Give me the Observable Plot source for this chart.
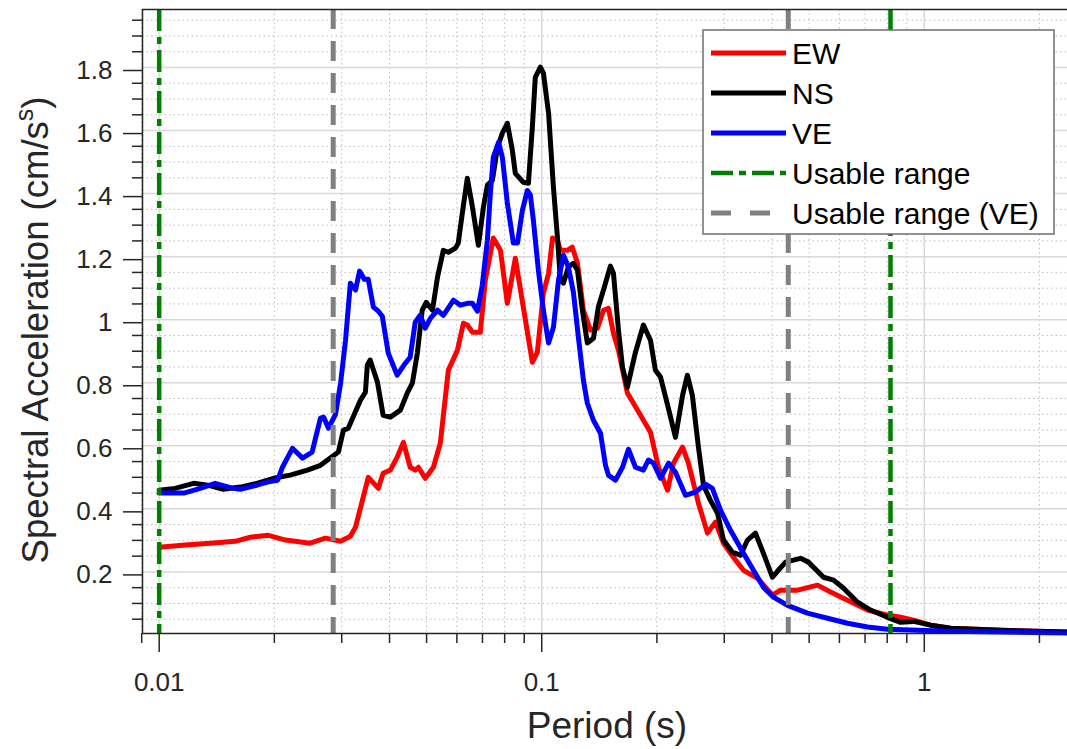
<!DOCTYPE html>
<html><head><meta charset="utf-8">
<script src="https://cdn.jsdelivr.net/npm/d3@7"></script>
<script src="https://cdn.jsdelivr.net/npm/@observablehq/plot@0.6"></script>
<style>body{margin:0;background:#fff;} #chart{width:1067px;height:749px;}</style>
</head><body><div id="chart"></div>
<script>
// ---- data ----
const ewPeriod = [0.0100,0.0117,0.0136,0.0158,0.0173,0.0193,0.0214,0.0248,0.0272,0.0298,
  0.0316,0.0326,0.0352,0.0374,0.0385,0.0402,0.0419,0.0435,0.0453,0.0467,
  0.0476,0.0496,0.0521,0.0543,0.0570,0.0602,0.0624,0.0639,0.0659,0.0691,
  0.0712,0.0747,0.0780,0.0813,0.0853,0.0895,0.0945,0.0974,0.101,0.1042,
  0.1067,0.1099,0.1119,0.1168,0.1202,0.1240,0.1285,0.1341,0.1398,0.1450,
  0.1494,0.1540,0.1587,0.1675,0.1737,0.1924,0.2019,0.2133,0.2210,0.2334,
  0.2418,0.2568,0.2712,0.2846,0.2986,0.3170,0.3368,0.3664,0.401,0.421,
  0.466,0.526,0.569,0.630,0.711,0.801,0.867,0.937,1.039,1.172,
  1.585,2.37];
const ewSA = [0.278,0.285,0.291,0.297,0.310,0.316,0.301,0.291,0.307,0.297,
  0.313,0.342,0.500,0.465,0.513,0.523,0.564,0.611,0.532,0.523,
  0.532,0.497,0.532,0.608,0.840,0.903,0.989,0.983,0.960,0.960,
  1.125,1.259,1.220,1.052,1.195,1.040,0.865,0.897,1.084,1.147,
  1.259,1.252,1.220,1.220,1.230,1.179,1.030,0.967,0.973,1.030,
  1.036,0.957,0.903,0.767,0.735,0.643,0.532,0.459,0.545,0.596,
  0.545,0.418,0.323,0.358,0.291,0.246,0.205,0.180,0.126,0.142,
  0.142,0.158,0.136,0.110,0.079,0.063,0.056,0.047,0.031,0.021,
  0.015,0.009];

const nsPeriod = [0.0100,0.0110,0.0123,0.0134,0.0147,0.0163,0.0180,0.0199,0.0220,0.0244,
  0.0264,0.0280,0.0294,0.0303,0.0312,0.0336,0.0346,0.0350,0.0356,0.0372,
  0.0385,0.0402,0.0427,0.0445,0.0459,0.0473,0.0487,0.0499,0.0518,0.0534,
  0.0553,0.0570,0.0595,0.0605,0.0620,0.0639,0.0659,0.0683,0.0704,0.0721,
  0.0743,0.0766,0.0789,0.0813,0.0838,0.0853,0.0895,0.0923,0.0945,0.0962,
  0.0992,0.101,0.1042,0.1073,0.1099,0.1119,0.1140,0.1174,0.1210,0.1240,
  0.1277,0.1316,0.1365,0.1406,0.1450,0.1512,0.1540,0.1587,0.1626,0.1675,
  0.1758,0.1844,0.1924,0.1982,0.2044,0.2133,0.2237,0.2334,0.2403,0.2476,
  0.2568,0.2647,0.2761,0.2881,0.2986,0.3152,0.3308,0.3451,0.3620,0.3798,
  0.4010,0.4133,0.4338,0.4747,0.4979,0.5453,0.5793,0.6152,0.6694,0.7237,
  0.801,0.867,0.937,1.039,1.172,1.585,2.37];
const nsSA = [0.459,0.465,0.481,0.475,0.462,0.469,0.481,0.497,0.507,0.523,
  0.538,0.561,0.580,0.649,0.656,0.745,0.770,0.856,0.872,0.802,
  0.697,0.691,0.713,0.767,0.799,0.894,1.030,1.055,1.030,1.135,
  1.220,1.214,1.227,1.243,1.338,1.449,1.357,1.236,1.357,1.427,
  1.442,1.547,1.592,1.623,1.537,1.464,1.436,1.433,1.611,1.769,
  1.801,1.782,1.655,1.420,1.262,1.125,1.116,1.167,1.179,1.157,
  1.030,0.926,0.941,1.040,1.094,1.170,1.147,0.967,0.849,0.786,
  0.897,0.983,0.935,0.840,0.818,0.729,0.627,0.760,0.824,0.760,
  0.596,0.475,0.427,0.386,0.301,0.262,0.253,0.301,0.323,0.259,
  0.183,0.202,0.231,0.243,0.231,0.183,0.174,0.148,0.104,0.079,
  0.056,0.040,0.043,0.031,0.021,0.015,0.009];

const vePeriod = [0.0100,0.0116,0.0128,0.0140,0.0156,0.0163,0.0180,0.0195,0.0204,0.0210,
  0.0223,0.0237,0.0251,0.0264,0.0269,0.0277,0.0289,0.0298,0.0307,0.0316,
  0.0326,0.0334,0.0344,0.0352,0.0363,0.0374,0.0383,0.0397,0.0419,0.0440,
  0.0453,0.0467,0.0481,0.0496,0.0512,0.0534,0.0553,0.0588,0.0613,0.0639,
  0.0659,0.0679,0.0699,0.0721,0.0734,0.0747,0.0771,0.0789,0.0813,0.0843,
  0.0864,0.0890,0.0917,0.0934,0.0951,0.0980,0.101,0.1042,0.1073,0.1106,
  0.1140,0.1174,0.1210,0.1247,0.1285,0.1316,0.1365,0.1424,0.1468,0.1494,
  0.1559,0.1626,0.1685,0.1758,0.1844,0.1900,0.1959,0.2044,0.2146,0.2237,
  0.2375,0.2522,0.2680,0.2793,0.2933,0.3115,0.3368,0.3577,0.3798,0.4035,
  0.4390,0.4950,0.5586,0.630,0.711,0.801,0.960,1.172,1.585,2.37];
const veSA = [0.450,0.450,0.465,0.481,0.465,0.462,0.475,0.487,0.491,0.532,
  0.592,0.561,0.580,0.688,0.691,0.656,0.700,0.799,0.935,1.116,
  1.094,1.154,1.128,1.128,1.040,1.027,1.011,0.894,0.824,0.862,
  0.881,0.992,1.014,0.973,1.005,1.030,1.014,1.062,1.046,1.052,
  1.052,1.027,1.109,1.252,1.401,1.515,1.563,1.515,1.370,1.243,
  1.243,1.347,1.410,1.395,1.315,1.157,1.030,0.926,0.976,1.125,
  1.205,1.167,1.087,0.944,0.808,0.735,0.681,0.640,0.538,0.507,
  0.491,0.532,0.589,0.532,0.523,0.555,0.545,0.497,0.545,0.516,
  0.443,0.453,0.478,0.465,0.396,0.332,0.259,0.205,0.151,0.120,
  0.094,0.069,0.053,0.037,0.025,0.018,0.015,0.012,0.009,0.006];

const usableRange = [0.01, 0.816];
const usableRangeVE = [0.0285, 0.441];

const yMajor = [0.2,0.4,0.6,0.8,1,1.2,1.4,1.6,1.8];
const yMinor = [0.05,0.1,0.15,0.25,0.3,0.35,0.45,0.5,0.55,0.65,0.7,0.75,0.85,0.9,0.95,
  1.05,1.1,1.15,1.25,1.3,1.35,1.45,1.5,1.55,1.65,1.7,1.75,1.85,1.9,1.95];
const xMajor = [0.01,0.1,1];
const xMinor = [0.009,0.02,0.03,0.04,0.05,0.06,0.07,0.08,0.09,0.2,0.3,0.4,0.5,0.6,0.7,0.8,0.9,2];

const seriesNames = ["EW","NS","VE"];
const seriesColors = ["#ff0000","#000000","#0000ff"];

// ---- build ----
const toRows = (P, V) => P.map((T, i) => ({T, v: V[i]}));
const EW = toRows(ewPeriod, ewSA), NS = toRows(nsPeriod, nsSA), VE = toRows(vePeriod, veSA);

const xDom = [0.009044, 2.368], yDom = [0.0046, 1.984];
const ink = "#262626";
const lineOpts = {x: "T", y: "v", strokeWidth: 5, strokeLinejoin: "round", strokeLinecap: "round"};

const chart = Plot.plot({
  width: 1067, height: 749,
  marginLeft: 142, marginRight: 0, marginTop: 9, marginBottom: 116,
  style: {fontFamily: "'Liberation Sans', Arial, sans-serif", fontSize: "26px", background: "white", overflow: "visible"},
  x: {type: "log", domain: xDom, label: null},
  y: {domain: yDom, label: null},
  marks: [
    Plot.gridY(yMinor, {stroke: "#bdbdbd", strokeOpacity: 1, strokeWidth: 1, strokeDasharray: "1.5,3"}),
    Plot.gridX(xMinor, {stroke: "#bdbdbd", strokeOpacity: 1, strokeWidth: 1, strokeDasharray: "1.5,3"}),
    Plot.gridY(yMajor, {stroke: "#d9d9d9", strokeOpacity: 1, strokeWidth: 1.5}),
    Plot.gridX(xMajor, {stroke: "#d9d9d9", strokeOpacity: 1, strokeWidth: 1.5}),
    Plot.line(EW, {...lineOpts, stroke: seriesColors[0]}),
    Plot.line(NS, {...lineOpts, stroke: seriesColors[1]}),
    Plot.line(VE, {...lineOpts, stroke: seriesColors[2]}),
    Plot.ruleX(usableRange, {stroke: "#008000", strokeWidth: 4.5, strokeDasharray: "22,6,7,6"}),
    Plot.ruleX(usableRangeVE, {stroke: "#808080", strokeWidth: 5, strokeDasharray: "20,12"}),
    Plot.ruleY([yDom[0]], {stroke: ink, strokeWidth: 1.5}),
    Plot.ruleY([yDom[1]], {stroke: ink, strokeWidth: 1.5}),
    Plot.ruleX([xDom[0]], {stroke: ink, strokeWidth: 1.5}),
    Plot.axisY(yMajor, {anchor: "left", tickSize: 19, tickPadding: 11, fontSize: 26, dy: 3,
      tickFormat: d => String(d), label: null, color: ink, strokeWidth: 1.5}),
    Plot.axisY(yMinor, {anchor: "left", tickSize: 10, tickFormat: () => "", label: null, color: ink, strokeWidth: 1.5}),
    Plot.axisX(xMajor, {anchor: "bottom", tickSize: 19, tickPadding: 20, fontSize: 26,
      tickFormat: d => String(d), label: null, color: ink, strokeWidth: 1.5}),
    Plot.axisX(xMinor, {anchor: "bottom", tickSize: 10, tickFormat: () => "", label: null, color: ink, strokeWidth: 1.5})
  ]
});
document.getElementById("chart").appendChild(chart);

// ---- axis titles & legend ----
const svg = d3.select(chart);
svg.append("text").attr("x", 607).attr("y", 738).attr("text-anchor", "middle")
  .attr("font-size", 37).attr("fill", ink).text("Period (s)");
const yl = svg.append("text").attr("transform", "translate(48,330) rotate(-90)")
  .attr("text-anchor", "middle").attr("font-size", 36.5).attr("fill", ink);
yl.append("tspan").text("Spectral Acceleration (cm/s");
yl.append("tspan").attr("font-size", 25).attr("dy", -15).text("s");
yl.append("tspan").attr("dy", 15).text(")");

const legendItems = [
  {label: seriesNames[0], color: seriesColors[0], dash: null, w: 5},
  {label: seriesNames[1], color: seriesColors[1], dash: null, w: 5},
  {label: seriesNames[2], color: seriesColors[2], dash: null, w: 5},
  {label: "Usable range", color: "#008000", dash: "22,6,7,6", w: 4.5},
  {label: "Usable range (VE)", color: "#808080", dash: "20,19", w: 5}
];
const lg = svg.append("g").attr("text-anchor", "start");
lg.append("rect").attr("x", 703).attr("y", 30).attr("width", 351).attr("height", 204)
  .attr("fill", "white").attr("stroke", "#6e6e6e").attr("stroke-width", 1.5);
legendItems.forEach((it, i) => {
  const yy = 53 + i * 40;
  lg.append("line").attr("x1", 711).attr("x2", 786).attr("y1", yy).attr("y2", yy)
    .attr("stroke", it.color).attr("stroke-width", it.w)
    .attr("stroke-dasharray", it.dash);
  lg.append("text").attr("x", 792).attr("y", yy).attr("dy", "0.36em")
    .attr("text-anchor", "start")
    .attr("font-size", 30).attr("fill", "#000").text(it.label);
});
</script></body></html>
